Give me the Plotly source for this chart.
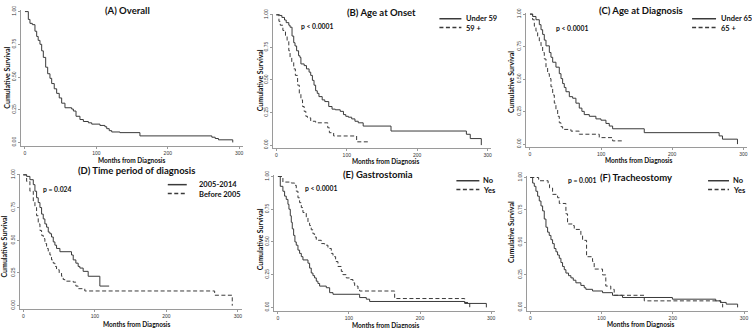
import plotly.graph_objects as go

# ---------------- data ----------------
months_ticks = [0, 100, 200, 300]
surv_ticks = [0.0, 0.25, 0.5, 0.75, 1.0]
surv_ticklabels = ["0.00", "0.25", "0.50", "0.75", "1.00"]

# (A) Overall
a_t = [0, 4.7, 7, 10.3, 14, 16.4, 18.5, 21, 23.4, 25.7, 29, 31.8, 35, 37.4, 41, 44.4, 48, 51.4, 56,
       65.4, 67.8, 71.5, 77, 81.8, 88.8, 93.5, 105, 112, 114.5, 118, 121.5, 133, 161, 261.7, 266.4, 271, 291]
a_s = [1.0, 0.94, 0.91, 0.90, 0.85, 0.81, 0.78, 0.75, 0.70, 0.65, 0.575, 0.525, 0.49, 0.45, 0.41, 0.375, 0.34, 0.30, 0.265,
       0.255, 0.24, 0.20, 0.175, 0.16, 0.15, 0.14, 0.13, 0.12, 0.105, 0.09, 0.08, 0.075, 0.05, 0.04, 0.03, 0.02, 0.0]

# (B) Age at onset
b_under_t = [0, 4.7, 7.9, 11.6, 14, 17.7, 19.5, 22.3, 24.7, 26.5, 28.8, 31.6, 33.5, 34.9, 39.5, 42.8, 46.5, 48.8,
             51.2, 53.5, 55.8, 58.1, 60.5, 65.1, 68.8, 74.4, 79.1, 83.7, 90.7, 95.3, 98.6, 102.3, 107, 111.6, 116.3,
             123.3, 162.8, 269.8, 275.3, 291]
b_under_s = [1.0, 0.995, 0.98, 0.96, 0.94, 0.92, 0.905, 0.837, 0.786, 0.761, 0.724, 0.686, 0.673, 0.623, 0.61, 0.585,
             0.56, 0.535, 0.497, 0.46, 0.417, 0.397, 0.372, 0.347, 0.334, 0.296, 0.276, 0.271, 0.259, 0.234, 0.221,
             0.214, 0.201, 0.183, 0.171, 0.146, 0.108, 0.083, 0.05, 0.0]
b_over_t = [0, 3.7, 5.6, 9.3, 13, 15.3, 17.7, 19.5, 21.9, 24.7, 27, 30.2, 32.6, 34.9, 37.2, 39.5, 41.9, 44.2, 48.8,
            55.8, 73, 75.3, 81.4, 114, 130]
b_over_s = [1.0, 0.95, 0.92, 0.88, 0.837, 0.80, 0.724, 0.673, 0.636, 0.585, 0.535, 0.46, 0.397, 0.347, 0.296, 0.259,
            0.221, 0.209, 0.183, 0.171, 0.133, 0.095, 0.07, 0.025, 0.025]

# (C) Age at diagnosis
c_under_t = [0, 3.7, 8.4, 13.1, 15.5, 17.8, 20.1, 22.5, 27.2, 29.5, 31.9, 36.5, 41.2, 43.6, 45.9, 48.2, 50.6, 55.3,
             60, 64.6, 69.3, 73, 76.3, 83.4, 92.7, 99.8, 106.8, 111.5, 116.2, 160.7, 266, 270.7, 291.8]
c_under_s = [1.0, 0.982, 0.957, 0.919, 0.88, 0.844, 0.80, 0.756, 0.705, 0.668, 0.63, 0.592, 0.542, 0.504, 0.466, 0.436,
             0.403, 0.365, 0.353, 0.315, 0.277, 0.252, 0.227, 0.214, 0.194, 0.184, 0.159, 0.139, 0.118, 0.088, 0.063,
             0.038, 0.0]
c_over_t = [0, 3.7, 6.1, 8.4, 10.8, 13.1, 15.5, 17.8, 20.1, 22.5, 24.8, 27.2, 29.5, 31.9, 34.2, 36.5, 38.9, 41.2, 43.6,
            45.9, 57.6, 69.3, 97.4, 116.2, 130]
c_over_s = [1.0, 0.957, 0.907, 0.869, 0.831, 0.793, 0.756, 0.705, 0.655, 0.592, 0.542, 0.504, 0.441, 0.378, 0.315,
            0.264, 0.214, 0.164, 0.134, 0.113, 0.10, 0.076, 0.05, 0.025, 0.025]

# (D) Time period of diagnosis
d_recent_t = [0, 4.7, 9.3, 14, 16.3, 18.6, 20.9, 23.3, 25.6, 27.9, 30.2, 32.6, 34.9, 37.2, 39.5, 41.9, 44.2, 46.5,
              51.2, 67.4, 69.8, 73.5, 76.7, 79.1, 83.7, 90.7, 107, 120]
d_recent_s = [1.0, 0.988, 0.963, 0.925, 0.875, 0.825, 0.788, 0.75, 0.70, 0.663, 0.625, 0.60, 0.5625, 0.55, 0.525,
              0.4875, 0.4625, 0.4375, 0.4125, 0.3875, 0.35, 0.325, 0.30, 0.2875, 0.2625, 0.225, 0.15, 0.15]
d_before_t = [0, 4.7, 9.3, 14, 16.3, 18.6, 20.9, 23.3, 25.6, 27.9, 30.2, 32.6, 34.9, 37.2, 39.5, 41.9, 44.2, 46.5,
              50.2, 53.5, 55.8, 58.1, 69.8, 73.5, 76.7, 86, 267.4, 292]
d_before_s = [1.0, 0.95, 0.875, 0.80, 0.75, 0.6875, 0.625, 0.575, 0.5375, 0.5125, 0.475, 0.4375, 0.4125, 0.3875, 0.35,
              0.325, 0.30, 0.275, 0.25, 0.225, 0.20, 0.1875, 0.18, 0.15, 0.13, 0.1125, 0.08, 0.0]

# (E) Gastrostomia
e_no_t = [0, 3.3, 7, 9.4, 11.7, 14.1, 15.5, 17.4, 18.8, 20.2, 22.1, 23.9, 25.8, 28.2, 30.5, 32.9, 35.2, 42.3, 44.6,
          46.9, 49.3, 51.6, 54, 56.3, 58.7, 68.1, 72.8, 77.5, 115, 124.4, 129.1, 262.9, 293.4]
e_no_s = [1.0, 0.925, 0.8875, 0.85, 0.825, 0.7875, 0.75, 0.70, 0.65, 0.60, 0.55, 0.50, 0.475, 0.4375, 0.4125, 0.3875,
          0.3625, 0.3375, 0.30, 0.2625, 0.2425, 0.225, 0.20, 0.1825, 0.1625, 0.15, 0.1125, 0.10, 0.075, 0.0625,
          0.045, 0.03, 0.0]
e_yes_t = [0, 7, 18.8, 23.5, 25.8, 28.2, 30.5, 32.9, 35.2, 39.9, 42.3, 44.6, 46.9, 49.3, 51.6, 54, 61, 65.7, 70.4,
           75.1, 77.5, 81.2, 84.5, 89.2, 91.5, 96.2, 100.9, 105.6, 108, 112.7, 115, 164.3, 262.9, 270]
e_yes_s = [1.0, 0.9575, 0.95, 0.9325, 0.8875, 0.8375, 0.80, 0.7625, 0.725, 0.6875, 0.65, 0.625, 0.5925, 0.5625,
           0.5375, 0.5125, 0.4875, 0.475, 0.45, 0.4125, 0.3875, 0.35, 0.3125, 0.275, 0.25, 0.225, 0.2125, 0.1875,
           0.1625, 0.1375, 0.125, 0.0675, 0.0375, 0.0]

# (F) Tracheostomy
f_no_t = [0, 3.3, 5.6, 7.9, 10.3, 12.6, 15, 17.3, 19.6, 22, 24.3, 26.6, 29, 31.3, 33.6, 36, 38.3, 40.7, 43, 45.3,
          47.7, 50, 53.7, 57, 60.3, 64, 71, 75.7, 78, 87.4, 101.4, 115.4, 129.4, 199.5, 260.3, 267.3, 275, 291]
f_no_s = [1.0, 0.957, 0.932, 0.894, 0.856, 0.819, 0.781, 0.743, 0.68, 0.617, 0.579, 0.554, 0.521, 0.491, 0.453, 0.428,
          0.403, 0.378, 0.345, 0.315, 0.29, 0.264, 0.244, 0.227, 0.209, 0.189, 0.169, 0.151, 0.139, 0.126, 0.113,
          0.093, 0.076, 0.063, 0.05, 0.038, 0.025, 0.0]
f_yes_t = [0, 11.7, 25, 27, 31.3, 38.3, 40.7, 50, 52.3, 59.3, 61.7, 71, 73.4, 79, 87.4, 89.7, 101.4, 106, 113,
           117.8, 160, 267.3, 270]
f_yes_s = [1.0, 0.975, 0.945, 0.92, 0.87, 0.844, 0.80, 0.72, 0.642, 0.63, 0.60, 0.56, 0.516, 0.39, 0.353, 0.295,
           0.25, 0.164, 0.139, 0.093, 0.05, 0.025, 0.0]

panel_titles = ["(A) Overall", "(B) Age at Onset", "(C) Age at Diagnosis",
                "(D) Time period of diagnosis", "(E) Gastrostomia", "(F) Tracheostomy"]
p_values = [None, "p < 0.0001", "p < 0.0001", "p = 0.024", "p < 0.0001", "p = 0.001"]
series_names = [
    [],
    ["Under 59", "59 +"],
    ["Under 65", "65 +"],
    ["2005-2014", "Before 2005"],
    ["No", "Yes"],
    ["No", "Yes"],
]
series_data = [
    [(a_t, a_s)],
    [(b_under_t, b_under_s), (b_over_t, b_over_s)],
    [(c_under_t, c_under_s), (c_over_t, c_over_s)],
    [(d_recent_t, d_recent_s), (d_before_t, d_before_s)],
    [(e_no_t, e_no_s), (e_yes_t, e_yes_s)],
    [(f_no_t, f_no_s), (f_yes_t, f_yes_s)],
]
x_title = "Months from Diagnosis"
y_title = "Cumulative Survival"

# ---------------- layout geometry (pixels) ----------------
W, H = 752, 328
# pixel anchors: x of month 0, x of month 300, y of surv 1.0, y of surv 0.0
anchors = [
    (25.0, 239.5, 6.7, 140.0),
    (276.7, 488.3, 10.0, 142.7),
    (530.7, 744.3, 9.3, 141.7),
    (23.3, 238.3, 173.0, 306.3),
    (278.3, 491.7, 174.7, 308.0),
    (531.0, 745.0, 175.7, 308.0),
]
XR = (-5, 305)
YR = (-0.025, 1.01)

title_pos = [(128, 6), (382, 8), (642, 6), (137, 169), (379, 173), (637, 176)]
pval_pos = [None, (299, 21), (555, 23), (41, 187), (303, 186), (567, 178)]
ytitle_pos = [(7, 74), (260, 77), (511, 78), (4, 246), (260, 239), (511, 231)]
xtitle_pos = [(132, 158), (387, 159), (640, 158), (137, 325), (387, 326), (642, 325)]
# legend: (line x0, line x1, text x, row1 y, row2 y)
legend_pos = [None, (440, 462, 465, 14, 23), (693, 717, 720, 14, 23),
              (168, 187, 197, 183, 192), (457, 480, 482, 179, 188), (709, 730, 732, 179, 188)]

LINE_COL = "#3a3a3a"
AXIS_COL = "#9a9a9a"
TXT_COL = "#111111"
FONT = "Lato"


def fx(p):
    return p / W


def fy(p):
    return 1 - p / H


fig = go.Figure()
layout = dict(
    width=W, height=H, margin=dict(l=0, r=0, t=0, b=0),
    paper_bgcolor="white", plot_bgcolor="white", showlegend=False,
    annotations=[], shapes=[],
)

for i in range(6):
    k = i + 1
    xa = "x" if k == 1 else f"x{k}"
    ya = "y" if k == 1 else f"y{k}"
    x0p, x300p, y1p, y0p = anchors[i]
    kx = (x300p - x0p) / 300.0
    ky = (y0p - y1p)
    left = x0p + (XR[0]) * kx
    right = x0p + (XR[1]) * kx
    top = y0p - YR[1] * ky
    bottom = y0p - YR[0] * ky
    axis_common = dict(showgrid=False, zeroline=False, showline=True, linecolor=AXIS_COL, linewidth=1,
                       ticks="outside", ticklen=2, tickwidth=1, tickcolor=AXIS_COL,
                       tickfont=dict(family="Liberation Sans", size=5, color="#333333"), fixedrange=True)
    layout["xaxis" if k == 1 else f"xaxis{k}"] = dict(
        axis_common, domain=[fx(left), fx(min(right, W))], range=list(XR), anchor=ya,
        tickvals=months_ticks, ticktext=[str(v) for v in months_ticks])
    layout["yaxis" if k == 1 else f"yaxis{k}"] = dict(
        axis_common, domain=[fy(bottom), fy(top)], range=list(YR), anchor=xa,
        tickvals=surv_ticks, ticktext=surv_ticklabels, tickangle=-90)

    for j, (t, s) in enumerate(series_data[i]):
        name = series_names[i][j] if series_names[i] else "Overall"
        fig.add_trace(go.Scatter(
            x=t, y=s, mode="lines", name=name, xaxis=xa, yaxis=ya,
            line=dict(shape="hv", color=LINE_COL, width=1, dash="solid" if j == 0 else "4px,2.5px"),
            hoverinfo="skip"))

    # panel title
    tx, ty = title_pos[i]
    layout["annotations"].append(dict(
        text=f"<b>{panel_titles[i]}</b>", x=fx(tx), y=fy(ty), xref="paper", yref="paper",
        showarrow=False, xanchor="center", yanchor="middle",
        font=dict(family=FONT, size=9.5, color=TXT_COL)))
    # p-value
    if pval_pos[i]:
        px_, py_ = pval_pos[i]
        layout["annotations"].append(dict(
            text=f"<b>{p_values[i]}</b>", x=fx(px_), y=fy(py_), xref="paper", yref="paper",
            showarrow=False, xanchor="left", yanchor="middle",
            font=dict(family=FONT, size=6.8, color=TXT_COL)))
    # axis titles
    yx, yy = ytitle_pos[i]
    layout["annotations"].append(dict(
        text=f"<b>{y_title}</b>", x=fx(yx), y=fy(yy), xref="paper", yref="paper",
        showarrow=False, xanchor="center", yanchor="middle", textangle=-90,
        font=dict(family=FONT, size=7, color=TXT_COL)))
    xx, xy = xtitle_pos[i]
    layout["annotations"].append(dict(
        text=f"<b>{x_title}</b>", x=fx(xx), y=fy(xy), xref="paper", yref="paper",
        showarrow=False, xanchor="center", yanchor="middle",
        font=dict(family=FONT, size=6.5, color=TXT_COL)))
    # legend keys
    if legend_pos[i]:
        lx0, lx1, ltx, r1, r2 = legend_pos[i]
        for j, ry in enumerate([r1, r2]):
            layout["shapes"].append(dict(
                type="line", xref="paper", yref="paper", x0=fx(lx0), x1=fx(lx1), y0=fy(ry), y1=fy(ry),
                line=dict(color=LINE_COL, width=1.5, dash="solid" if j == 0 else "4px,2.5px")))
            layout["annotations"].append(dict(
                text=f"<b>{series_names[i][j]}</b>", x=fx(ltx), y=fy(ry + (1 if j == 1 else 0)),
                xref="paper", yref="paper", showarrow=False, xanchor="left", yanchor="middle",
                font=dict(family=FONT, size=7.5, color=TXT_COL)))

fig.update_layout(**layout)
fig.write_html("out.html", config={"displayModeBar": False},
               post_script="document.body.style.margin='0';document.body.style.padding='0';")
